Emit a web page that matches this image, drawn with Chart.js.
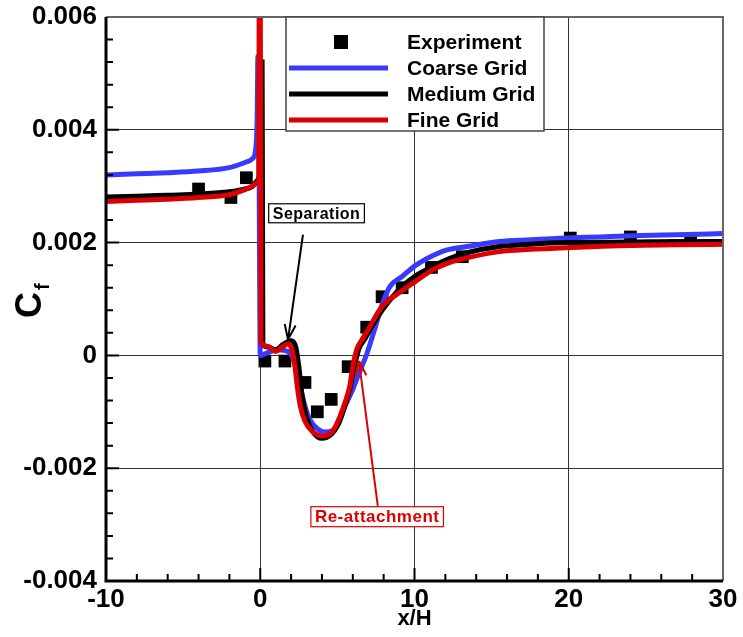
<!DOCTYPE html>
<html lang="en">
<head>
    <meta charset="UTF-8">
    <title>Cf along x/H</title>
    <script src="https://cdn.jsdelivr.net/npm/chart.js"></script>
    <style>
        body { margin: 0; background: #fff; }
        #wrap { width: 743px; height: 637px; }
    </style>
</head>
<body>
    <div id="wrap"><canvas id="cfChart"></canvas></div>
    <script>
        // experiment (squares)
        const expX = [-4.0, -1.9, -0.9, 0.3, 1.6, 2.9, 3.7, 4.6, 5.7, 6.9, 7.9, 9.2, 11.1, 13.1, 20.1, 24.0, 27.9];
        const expY = [0.00295, 0.0028, 0.00315, -0.0001, -0.0001, -0.00048, -0.001, -0.00078, -0.0002, 0.0005, 0.00104, 0.0012, 0.00156, 0.00175, 0.00208, 0.0021, 0.00205];

        // coarse grid
        const coarseX = [-10, -8, -6, -4, -2, -1, -0.5, -0.3, -0.2, -0.15, -0.08, 0, 0.5, 1.1, 1.9, 2.3, 2.6, 2.9, 3.2, 3.7, 4.2, 4.7, 5.1, 5.5, 6.0, 6.5, 6.9, 7.4, 7.9, 8.4, 9.2, 10.1, 11.2, 12.1, 13.4, 15.5, 17.5, 19.8, 22, 24.1, 27, 30];
        const coarseY = [0.0032, 0.00322, 0.00324, 0.00327, 0.00333, 0.00342, 0.00349, 0.00365, 0.0042, 0.0053, 0.0035, 0.0, 0.00005, 0.0001, 0.00005, -0.0002, -0.00055, -0.0009, -0.00113, -0.0013, -0.00136, -0.00133, -0.0012, -0.0009, -0.0006, -0.00025, 0.00002, 0.00045, 0.0009, 0.00122, 0.0014, 0.0016, 0.00177, 0.00187, 0.00193, 0.00202, 0.00205, 0.00208, 0.0021, 0.00212, 0.00214, 0.00216];

        // medium grid
        const mediumX = [-10, -8, -6, -4, -2, -1, -0.5, -0.2, 0.0, 0.12, 0.17, 0.5, 1.0, 1.5, 2.0, 2.3, 2.5, 2.7, 3.0, 3.4, 4.0, 4.6, 5.0, 5.5, 5.8, 6.1, 6.4, 6.8, 7.2, 7.9, 9.0, 10, 11.2, 12.3, 13.4, 15.5, 17.5, 19.8, 24, 27, 30];
        const mediumY = [0.00281, 0.00282, 0.00284, 0.00286, 0.0029, 0.00295, 0.003, 0.0031, 0.0033, 0.0052, 0.0002, 0.00015, 0.0001, 0.0002, 0.00026, 0.00015, -0.0002, -0.0007, -0.0011, -0.00135, -0.00147, -0.0014, -0.00125, -0.00088, -0.0006, -0.0002, 0.00012, 0.0003, 0.0005, 0.0008, 0.00117, 0.0014, 0.00158, 0.00172, 0.00182, 0.00193, 0.00197, 0.002, 0.00201, 0.00202, 0.00202];

        // fine grid
        const fineX = [-10, -8, -6, -4, -2, -1, -0.5, -0.2, -0.1, -0.06, 0.0, 0.05, 0.5, 1.0, 1.4, 1.8, 2.05, 2.25, 2.4, 2.6, 2.9, 3.35, 4.0, 4.65, 5.0, 5.5, 5.8, 6.0, 6.25, 6.6, 7.0, 7.9, 9.0, 10, 11.2, 12.3, 13.4, 15.5, 17.5, 19.8, 24.1, 27, 30];
        const fineY = [0.00273, 0.00275, 0.00277, 0.0028, 0.00285, 0.00294, 0.003, 0.00306, 0.0031, 0.0068, 0.0068, 0.00023, 0.00016, 0.00007, 0.00014, 0.0002, 0.0001, -0.0002, -0.00055, -0.0009, -0.00117, -0.00134, -0.00143, -0.00136, -0.00119, -0.00083, -0.00055, -0.0002, 0.0001, 0.00028, 0.00046, 0.00087, 0.00111, 0.0013, 0.00152, 0.00165, 0.00173, 0.00184, 0.00188, 0.00191, 0.00195, 0.00196, 0.00197];

        const legendNames = ['Experiment', 'Coarse Grid', 'Medium Grid', 'Fine Grid'];
        const colors = ['#000000', '#3a3aff', '#000000', '#dd0000'];

        const FONT = 'Liberation Sans, Arial, Helvetica, sans-serif';

        const pts = (xs, ys) => xs.map((x, i) => ({ x: x, y: ys[i] }));
        const isMajor = (v, step) => Math.abs(v / step - Math.round(v / step)) < 1e-6;

        function lineSet(label, xs, ys, color) {
            return {
                label: label,
                data: pts(xs, ys),
                showLine: true,
                borderColor: color,
                borderWidth: 5,
                pointRadius: 0,
                cubicInterpolationMode: 'monotone'
            };
        }

        // helpers to draw overlay items in data coords
        function arrow(ctx, x1, y1, x2, y2, color) {
            ctx.save();
            ctx.strokeStyle = color;
            ctx.lineWidth = 2;
            ctx.beginPath();
            ctx.moveTo(x1, y1);
            ctx.lineTo(x2, y2);
            const ang = Math.atan2(y2 - y1, x2 - x1);
            for (const s of [-0.35, 0.35]) {
                ctx.moveTo(x2, y2);
                ctx.lineTo(x2 - 16 * Math.cos(ang + s), y2 - 16 * Math.sin(ang + s));
            }
            ctx.stroke();
            ctx.restore();
        }

        function boxText(ctx, text, cx, cy, color, size) {
            ctx.save();
            ctx.font = 'bold ' + size + 'px ' + FONT;
            ctx.letterSpacing = '0.5px';
            const w = ctx.measureText(text).width + 8;
            const h = size + 3;
            ctx.fillStyle = '#fff';
            ctx.fillRect(cx - w / 2, cy - h / 2, w, h);
            ctx.strokeStyle = color;
            ctx.lineWidth = 1.2;
            ctx.strokeRect(cx - w / 2, cy - h / 2, w, h);
            ctx.fillStyle = color;
            ctx.textAlign = 'center';
            ctx.textBaseline = 'middle';
            ctx.fillText(text, cx, cy + 1);
            ctx.restore();
        }

        const overlay = {
            id: 'overlay',
            afterDraw(chart) {
                const ctx = chart.ctx, a = chart.chartArea;
                const xs = chart.scales.x, ys = chart.scales.y;
                const px = v => xs.getPixelForValue(v);
                const py = v => ys.getPixelForValue(v);

                // inward ticks
                ctx.save();
                ctx.strokeStyle = '#000';
                ctx.lineWidth = 2;
                ctx.beginPath();
                ys.ticks.forEach(t => {
                    const p = py(t.value);
                    ctx.moveTo(a.left, p);
                    ctx.lineTo(a.left + (isMajor(t.value, 0.002) ? 13 : 7), p);
                });
                xs.ticks.forEach(t => {
                    const p = px(t.value);
                    ctx.moveTo(p, a.bottom);
                    ctx.lineTo(p, a.bottom - (isMajor(t.value, 10) ? 13 : 7));
                });
                ctx.stroke();

                // frame
                ctx.strokeStyle = '#666';
                ctx.lineWidth = 2;
                ctx.beginPath();
                ctx.moveTo(a.left, a.top);
                ctx.lineTo(a.right, a.top);
                ctx.lineTo(a.right, a.bottom);
                ctx.stroke();
                ctx.strokeStyle = '#000';
                ctx.lineWidth = 3;
                ctx.beginPath();
                ctx.moveTo(a.left, a.top);
                ctx.lineTo(a.left, a.bottom);
                ctx.lineTo(a.right, a.bottom);
                ctx.stroke();
                ctx.restore();

                // annotations
                arrow(ctx, px(2.77), py(0.00214), px(1.8), py(0.00028), '#000');
                boxText(ctx, 'Separation', px(3.65), py(0.00252), '#000', 16);
                arrow(ctx, px(7.62), py(-0.00267), px(6.4), py(-0.0001), '#dd0000');
                boxText(ctx, 'Re-attachment', px(7.58), py(-0.00286), '#dd0000', 17);

                // legend
                ctx.save();
                const lx = a.left + 180, ly = a.top, lw = 258, lh = 114;
                ctx.fillStyle = '#fff';
                ctx.fillRect(lx, ly, lw, lh);
                ctx.strokeStyle = '#444';
                ctx.lineWidth = 1.5;
                ctx.strokeRect(lx, ly, lw, lh);
                ctx.font = 'bold 21px ' + FONT;
                ctx.textBaseline = 'middle';
                legendNames.forEach((name, i) => {
                    const ry = ly + 25 + i * 26;
                    if (i === 0) {
                        ctx.fillStyle = '#000';
                        ctx.fillRect(lx + 48, ry - 7, 14, 14);
                    } else {
                        ctx.strokeStyle = colors[i];
                        ctx.lineWidth = 5;
                        ctx.beginPath();
                        ctx.moveTo(lx + 3, ry);
                        ctx.lineTo(lx + 102, ry);
                        ctx.stroke();
                    }
                    ctx.fillStyle = '#000';
                    ctx.fillText(name, lx + 121, ry + 1);
                });
                ctx.restore();

                // axis titles
                ctx.save();
                ctx.fillStyle = '#000';
                ctx.font = 'bold 22px ' + FONT;
                ctx.textAlign = 'center';
                ctx.textBaseline = 'middle';
                ctx.fillText('x/H', px(10), 619);
                ctx.translate(41, 318);
                ctx.rotate(-Math.PI / 2);
                ctx.textAlign = 'left';
                ctx.textBaseline = 'alphabetic';
                ctx.font = 'bold 36px ' + FONT;
                ctx.fillText('C', 0, 0);
                ctx.font = 'bold 20px ' + FONT;
                ctx.fillText('f', 28, 8);
                ctx.restore();
            }
        };

        const ctx = document.getElementById('cfChart').getContext('2d');
        new Chart(ctx, {
            type: 'scatter',
            data: {
                datasets: [
                    lineSet('Fine Grid', fineX, fineY, colors[3]),
                    lineSet('Medium Grid', mediumX, mediumY, colors[2]),
                    lineSet('Coarse Grid', coarseX, coarseY, colors[1]),
                    {
                        label: 'Experiment',
                        data: pts(expX, expY),
                        pointStyle: 'rect',
                        pointRadius: 9,
                        borderWidth: 0,
                        backgroundColor: '#000'
                    }
                ]
            },
            options: {
                responsive: true,
                maintainAspectRatio: false,
                animation: false,
                layout: { padding: { left: 0, right: 20, top: 17, bottom: 0 } },
                plugins: {
                    legend: { display: false },
                    tooltip: { enabled: false }
                },
                scales: {
                    x: {
                        type: 'linear',
                        min: -10,
                        max: 30,
                        afterFit: s => { s.height = 56; s.paddingRight = 0; s.paddingLeft = 0; },
                        border: { display: false },
                        grid: {
                            drawTicks: false,
                            color: c => isMajor(c.tick.value, 10) ? '#333' : 'rgba(0,0,0,0)',
                            lineWidth: 1
                        },
                        ticks: {
                            stepSize: 2,
                            autoSkip: false,
                            maxRotation: 0,
                            padding: 3,
                            color: '#000',
                            font: { family: FONT, size: 26, weight: 'bold' },
                            callback: v => isMajor(v, 10) ? String(Math.round(v)) : ''
                        }
                    },
                    y: {
                        min: -0.004,
                        max: 0.006,
                        afterFit: s => { s.width = 106; s.paddingTop = 0; s.paddingBottom = 0; },
                        border: { display: false },
                        grid: {
                            drawTicks: false,
                            color: c => isMajor(c.tick.value, 0.002) ? '#333' : 'rgba(0,0,0,0)',
                            lineWidth: 1
                        },
                        ticks: {
                            stepSize: 0.0004,
                            autoSkip: false,
                            padding: 9,
                            color: '#000',
                            font: { family: FONT, size: 26, weight: 'bold' },
                            callback: v => {
                                if (!isMajor(v, 0.002)) return '';
                                const r = Math.round(v / 0.002) * 0.002;
                                return r === 0 ? '0' : r.toFixed(3);
                            }
                        }
                    }
                }
            },
            plugins: [overlay]
        });
    </script>
</body>
</html>
